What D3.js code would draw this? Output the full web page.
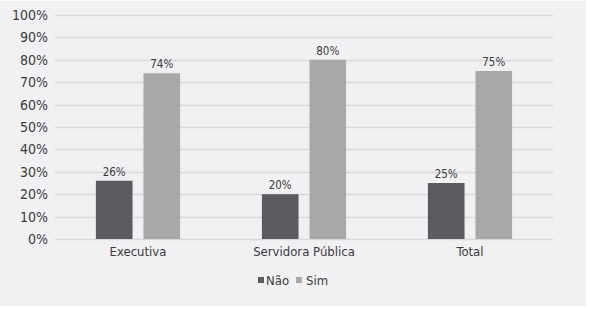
<!DOCTYPE html>
<html>
<head>
<meta charset="utf-8">
<script src="https://cdn.jsdelivr.net/npm/d3@7"></script>
<style>
  body { margin: 0; background: #fff; }
  svg { display: block; }
  text { font-family: "Liberation Sans Narrow", "DejaVu Sans Condensed", sans-serif; fill: #3b3b3d; }
</style>
</head>
<body>
<svg width="590" height="309"></svg>
<script>
var categories = ['Executiva', 'Servidora Pública', 'Total'];
var series = ['Não', 'Sim'];
var naoValues = [0.26, 0.20, 0.25];
var simValues = [0.74, 0.80, 0.75];
var tickValues = [0, 0.1, 0.2, 0.3, 0.4, 0.5, 0.6, 0.7, 0.8, 0.9, 1];

var colors = { 'Não': '#5b5b5f', 'Sim': '#a9a9ab' };

var svg = d3.select('svg');

// panel background
svg.append('rect')
	.attr('x', 0)
	.attr('y', 1)
	.attr('width', 586)
	.attr('height', 305)
	.attr('fill', '#f1f1f3');

var plotLeft = 55, plotRight = 553, plotTop = 15, plotBottom = 239;

var y = d3.scaleLinear()
	.domain([0, 1])
	.range([plotBottom, plotTop]);

var x0 = d3.scaleBand()
	.domain(categories)
	.range([plotLeft, plotRight]);

var x1 = d3.scaleBand()
	.domain(series)
	.range([0, x0.bandwidth()])
	.paddingInner(0.23)
	.paddingOuter(0.86);

// gridlines
svg.append('g')
	.selectAll('line')
	.data(tickValues)
	.join('line')
	.attr('x1', plotLeft)
	.attr('x2', plotRight)
	.attr('y1', function(d) { return Math.round(y(d)) + 0.5; })
	.attr('y2', function(d) { return Math.round(y(d)) + 0.5; })
	.attr('stroke', '#d9d9db')
	.attr('stroke-width', 1.5);

// y axis labels
var yAxis = d3.axisLeft(y)
	.tickValues(tickValues)
	.tickFormat(d3.format('.0%'))
	.tickSize(0)
	.tickPadding(7);

var gy = svg.append('g')
	.attr('transform', 'translate(' + plotLeft + ',0)')
	.call(yAxis);
gy.select('.domain').remove();
gy.selectAll('text')
	.style('font-size', '14px')
	.attr('fill', '#3b3b3d');

// x axis labels
var xAxis = d3.axisBottom(x0).tickSize(0).tickPadding(8);
var gx = svg.append('g')
	.attr('transform', 'translate(0,' + plotBottom + ')')
	.call(xAxis);
gx.select('.domain').remove();
gx.selectAll('text')
	.style('font-size', '13px')
	.attr('fill', '#3b3b3d');

var rows = categories.map(function(c, i) {
	return { cat: c, vals: [{ s: 'Não', v: naoValues[i] }, { s: 'Sim', v: simValues[i] }] };
});

var groups = svg.append('g')
	.selectAll('g')
	.data(rows)
	.join('g')
	.attr('transform', function(d) { return 'translate(' + x0(d.cat) + ',0)'; });

groups.selectAll('rect')
	.data(function(d) { return d.vals; })
	.join('rect')
	.attr('x', function(d) { return x1(d.s); })
	.attr('y', function(d) { return y(d.v); })
	.attr('width', x1.bandwidth())
	.attr('height', function(d) { return plotBottom - y(d.v); })
	.attr('fill', function(d) { return colors[d.s]; });

groups.selectAll('text.val')
	.data(function(d) { return d.vals; })
	.join('text')
	.attr('class', 'val')
	.attr('x', function(d) { return x1(d.s) + x1.bandwidth() / 2; })
	.attr('y', function(d) { return y(d.v) - 5; })
	.attr('text-anchor', 'middle')
	.style('font-size', '11.5px')
	.text(function(d) { return d3.format('.0%')(d.v); });

// legend
var legendX = [258, 296];
var legend = svg.append('g')
	.selectAll('g')
	.data(series)
	.join('g')
	.attr('transform', function(d, i) { return 'translate(' + legendX[i] + ',279)'; });

legend.append('rect')
	.attr('x', 0)
	.attr('y', -2)
	.attr('width', 6)
	.attr('height', 6)
	.attr('fill', function(d) { return colors[d]; });

legend.append('text')
	.attr('x', function(d, i) { return i === 0 ? 8 : 10; })
	.attr('y', 6)
	.style('font-size', '13px')
	.text(function(d) { return d; });
</script>
</body>
</html>
